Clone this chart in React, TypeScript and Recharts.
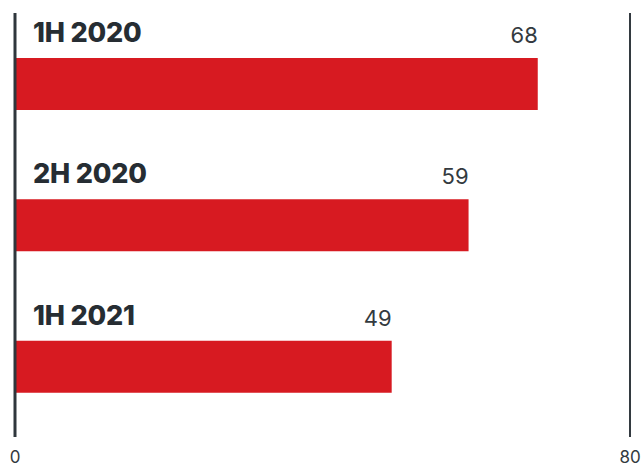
import React from 'react';
import { Bar, BarChart, LabelList, ReferenceLine, XAxis, YAxis } from 'recharts';

const periods = ['1H 2020', '2H 2020', '1H 2021'];
const values = [68, 59, 49];
const xTicks = [0, 80];

const data = periods.map((period, i) => ({ period, value: values[i] }));

const FONT = 'Inter, "Liberation Sans", sans-serif';

const PeriodLabel = (props: any) => {
  const { x, y, value } = props;
  return (
    <text
      x={x + 18}
      y={y - 16}
      fontFamily={FONT}
      fontSize={27}
      fontWeight={800}
      letterSpacing={-0.2}
      fill="#262d33"
    >
      {value}
    </text>
  );
};

const ValueLabel = (props: any) => {
  const { x, y, width, value } = props;
  return (
    <text
      x={x + width}
      y={y - 15}
      textAnchor="end"
      fontFamily={FONT}
      fontSize={22}
      fill="#333a40"
    >
      {value}
    </text>
  );
};

const AxisTick = (props: any) => {
  const { x, y, payload } = props;
  return (
    <text
      x={x}
      y={y + 24}
      textAnchor="middle"
      fontFamily={FONT}
      fontSize={17}
      fill="#333a40"
    >
      {payload.value}
    </text>
  );
};

export default function App() {
  return (
    <div style={{ position: 'absolute', left: 0, top: 0, background: '#fff' }}>
      <BarChart
        width={641}
        height={465}
        data={data}
        layout="vertical"
        margin={{ top: 13, right: 11, bottom: 0, left: 15 }}
        barSize={52}
      >
        <XAxis
          type="number"
          domain={[0, 80]}
          ticks={xTicks}
          axisLine={false}
          tickLine={false}
          tickSize={0}
          height={28}
          tick={<AxisTick />}
        />
        <YAxis type="category" dataKey="period" hide />
        <ReferenceLine x={0} stroke="#2f363c" strokeWidth={3} />
        <ReferenceLine x={80} stroke="#333a40" strokeWidth={2} />
        <Bar dataKey="value" fill="#d71a21" isAnimationActive={false}>
          <LabelList dataKey="period" content={<PeriodLabel />} />
          <LabelList dataKey="value" content={<ValueLabel />} />
        </Bar>
      </BarChart>
    </div>
  );
}
